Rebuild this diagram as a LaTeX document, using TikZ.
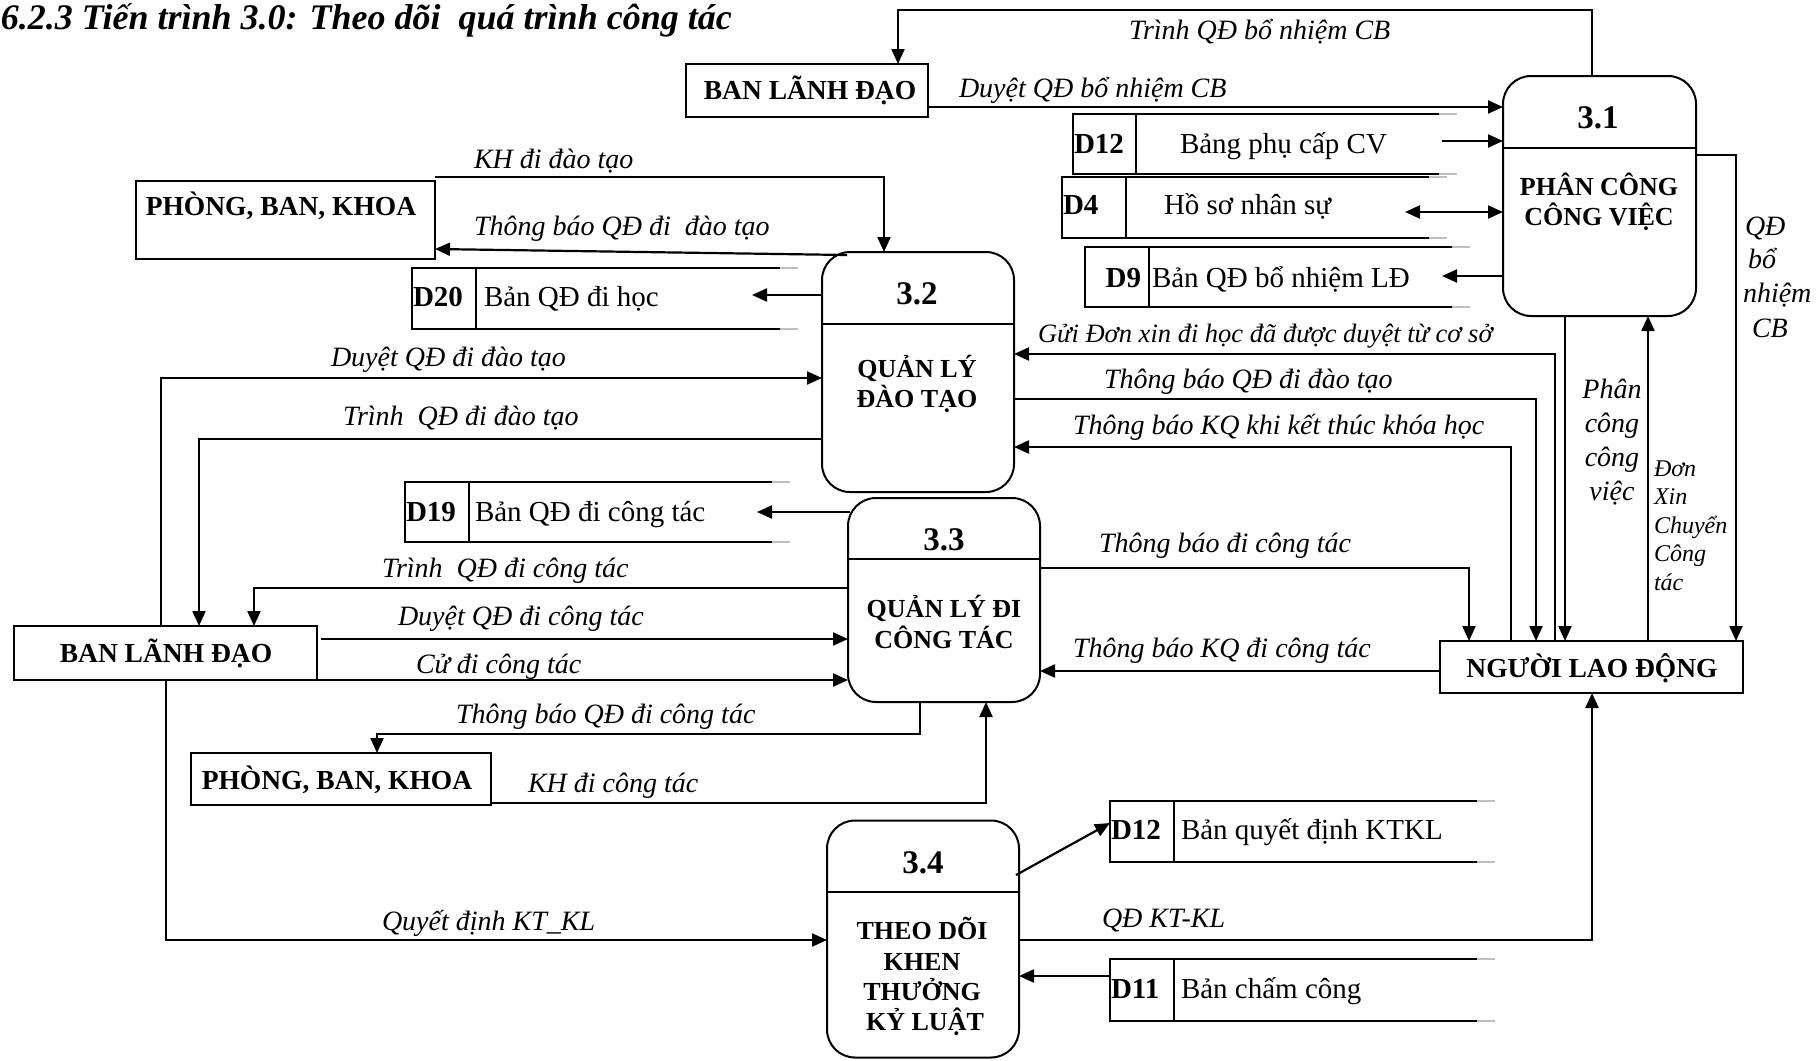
\documentclass[tikz,border=0pt]{standalone}
\usepackage{fontspec}
\setmainfont{Liberation Serif}
\usetikzlibrary{arrows.meta,calc}
\tikzset{
  every node/.style={inner sep=0pt, outer sep=0pt},
  ent/.style={draw, line width=2pt, rectangle},
  proc/.style={draw, line width=2pt, rectangle, rounded corners=28pt},
  sbox/.style={rectangle},
  sline/.style={line width=2pt},
  sfade/.style={line width=1.6pt, black!25},
  arr/.style={line width=2.2pt, -{Triangle[length=15pt,width=13pt]}},
  darr/.style={line width=2.2pt, {Triangle[length=15pt,width=13pt]}-{Triangle[length=15pt,width=13pt]}},
  lbl/.style={font=\fontsize{28}{33}\selectfont\itshape, anchor=base west},
  lblc/.style={font=\fontsize{28}{33}\selectfont\itshape, anchor=base},
  lbls/.style={font=\fontsize{24}{28}\selectfont\itshape, anchor=base west},
  enttxt/.style={font=\fontsize{27.5}{33}\selectfont\bfseries, anchor=base},
  pnum/.style={font=\fontsize{33}{40}\selectfont\bfseries, anchor=base},
  ptxt/.style={font=\fontsize{26}{30}\selectfont\bfseries, anchor=base},
  sid/.style={font=\fontsize{29}{34}\selectfont\bfseries, anchor=base west},
  stxt/.style={font=\fontsize{29}{34}\selectfont, anchor=base west},
  ttl/.style={font=\fontsize{36}{44}\selectfont\bfseries\itshape, anchor=base west}
}
\begin{document}
\begin{tikzpicture}[x=1pt,y=-1pt]
\useasboundingbox (0,0) rectangle (1819,1060);

% title
\node[ttl] (title) at (1,29) {6.2.3 Tiến trình 3.0: Theo dõi\ \ quá trình công tác};

% external entities
\node[ent, minimum width=242pt, minimum height=53pt] (blA) at (807,90.5) {};
\node[enttxt] (blAt) at (810,99) {BAN LÃNH ĐẠO};
\node[ent, minimum width=299pt, minimum height=78pt] (pbkA) at (285.5,220) {};
\node[enttxt] (pbkAt) at (281,215) {PHÒNG, BAN, KHOA};
\node[ent, minimum width=303pt, minimum height=54pt] (blB) at (165.5,653) {};
\node[enttxt] (blBt) at (166,662) {BAN LÃNH ĐẠO};
\node[ent, minimum width=300pt, minimum height=52pt] (pbkB) at (341,779) {};
\node[enttxt] (pbkBt) at (337,789) {PHÒNG, BAN, KHOA};
\node[ent, minimum width=303pt, minimum height=52pt] (nld) at (1591.5,667) {};
\node[enttxt] (nldt) at (1592,677) {NGƯỜI LAO ĐỘNG};

% processes
\node[proc, minimum width=193pt, minimum height=240pt] (p1) at (1599.5,196) {};
\draw[line width=2pt] (p1.west |- 0,148) -- (p1.east |- 0,148);
\node[pnum] (p1n) at (1598,128) {3.1};
\node[ptxt] (p1a) at (1599,195) {PHÂN CÔNG};
\node[ptxt] (p1b) at (1599,225) {CÔNG VIỆC};

\node[proc, minimum width=192pt, minimum height=240pt] (p2) at (918,372) {};
\draw[line width=2pt] (p2.west |- 0,324) -- (p2.east |- 0,324);
\node[pnum] (p2n) at (917,304) {3.2};
\node[ptxt] (p2a) at (917,377) {QUẢN LÝ};
\node[ptxt] (p2b) at (917,407) {ĐÀO TẠO};

\node[proc, minimum width=192pt, minimum height=204pt] (p3) at (944,600) {};
\draw[line width=2pt] (p3.west |- 0,559) -- (p3.east |- 0,559);
\node[pnum] (p3n) at (944,550) {3.3};
\node[ptxt] (p3a) at (944,617) {QUẢN LÝ ĐI};
\node[ptxt] (p3b) at (944,648) {CÔNG TÁC};

\node[proc, minimum width=192pt, minimum height=237pt] (p4) at (923,939) {};
\draw[line width=2pt] (p4.west |- 0,892) -- (p4.east |- 0,892);
\node[pnum] (p4n) at (923,873) {3.4};
\node[ptxt] (p4a) at (922,939) {THEO DÕI};
\node[ptxt] (p4b) at (922,970) {KHEN};
\node[ptxt] (p4c) at (922,1000) {THƯỞNG};
\node[ptxt] (p4d) at (925,1030) {KỶ LUẬT};

% data stores
\node[sbox, minimum width=366pt, minimum height=60pt] (d12a) at (1256,144) {};
\draw[sline] (d12a.north east) -- (d12a.north west) -- (d12a.south west) -- (d12a.south east) (1136,0 |- d12a.north) -- (1136,0 |- d12a.south);
\draw[sfade] (d12a.north east) -- ++(18,0) (d12a.south east) -- ++(18,0);
\node[sid] (d12at) at (1074,153) {D12};
\node[stxt] (d12ad) at (1180,153) {Bảng phụ cấp CV};

\node[sbox, minimum width=367pt, minimum height=61pt] (d4) at (1245.5,207.5) {};
\draw[sline] (d4.north east) -- (d4.north west) -- (d4.south west) -- (d4.south east) (1126,0 |- d4.north) -- (1126,0 |- d4.south);
\draw[sfade] (d4.north east) -- ++(18,0) (d4.south east) -- ++(18,0);
\node[sid] (d4t) at (1063,214) {D4};
\node[stxt] (d4d) at (1164,214) {Hồ sơ nhân sự};

\node[sbox, minimum width=367pt, minimum height=60pt] (d9) at (1268.5,277) {};
\draw[sline] (d9.north east) -- (d9.north west) -- (d9.south west) -- (d9.south east) (1149,0 |- d9.north) -- (1149,0 |- d9.south);
\draw[sfade] (d9.north east) -- ++(18,0) (d9.south east) -- ++(18,0);
\node[sid, anchor=base east] (d9t) at (1141,287) {D9};
\node[stxt] (d9d) at (1152,287) {Bản QĐ bổ nhiệm LĐ};

\node[sbox, minimum width=368pt, minimum height=61pt] (d20) at (596,298.5) {};
\draw[sline] (d20.north east) -- (d20.north west) -- (d20.south west) -- (d20.south east) (476,0 |- d20.north) -- (476,0 |- d20.south);
\draw[sfade] (d20.north east) -- ++(18,0) (d20.south east) -- ++(18,0);
\node[sid] (d20t) at (413,306) {D20};
\node[stxt] (d20d) at (484,306) {Bản QĐ đi học};

\node[sbox, minimum width=367pt, minimum height=60pt] (d19) at (588.5,512) {};
\draw[sline] (d19.north east) -- (d19.north west) -- (d19.south west) -- (d19.south east) (469,0 |- d19.north) -- (469,0 |- d19.south);
\draw[sfade] (d19.north east) -- ++(18,0) (d19.south east) -- ++(18,0);
\node[sid] (d19t) at (406,521) {D19};
\node[stxt] (d19d) at (475,521) {Bản QĐ đi công tác};

\node[sbox, minimum width=367pt, minimum height=61pt] (d12b) at (1293.5,831.5) {};
\draw[sline] (d12b.north east) -- (d12b.north west) -- (d12b.south west) -- (d12b.south east) (1174,0 |- d12b.north) -- (1174,0 |- d12b.south);
\draw[sfade] (d12b.north east) -- ++(18,0) (d12b.south east) -- ++(18,0);
\node[sid] (d12bt) at (1111,839) {D12};
\node[stxt] (d12bd) at (1181,839) {Bản quyết định KTKL};

\node[sbox, minimum width=367pt, minimum height=62pt] (d11) at (1293.5,990) {};
\draw[sline] (d11.north east) -- (d11.north west) -- (d11.south west) -- (d11.south east) (1174,0 |- d11.north) -- (1174,0 |- d11.south);
\draw[sfade] (d11.north east) -- ++(18,0) (d11.south east) -- ++(18,0);
\node[sid] (d11t) at (1111,998) {D11};
\node[stxt] (d11d) at (1181,998) {Bản chấm công};

% connectors around 3.1
\draw[arr] (1592,0 |- p1.north) -- (1592,10) -- (898,10) -- (898,0 |- blA.north);
\node[lbl] (l1) at (1129,39) {Trình QĐ bổ nhiệm CB};
\draw[arr] (blA.east |- 0,107) -- (p1.west |- 0,107);
\node[lbl] (l2) at (959,97) {Duyệt QĐ bổ nhiệm CB};
\draw[arr] ($(d12a.east |- 0,141)+(3,0)$) -- (p1.west |- 0,141);
\draw[darr] ($(d4.east |- 0,212)+(-24,0)$) -- (p1.west |- 0,212);
\draw[arr] (p1.west |- 0,276) -- ($(d9.east |- 0,276)+(-10,0)$);
\draw[arr] (p1.east |- 0,155) -- (1736,155) -- (1736,0 |- nld.north);
\node[lbl] (q1) at (1745,235) {QĐ};
\node[lbl] (q2) at (1748,268) {bổ};
\node[lbl] (q3) at (1743,302) {nhiệm};
\node[lbl] (q4) at (1752,337) {CB};
\draw[arr] (1565,0 |- p1.south) -- (1565,0 |- nld.north);
\node[lblc] (pc1) at (1612,398) {Phân};
\node[lblc] (pc2) at (1612,432) {công};
\node[lblc] (pc3) at (1612,466) {công};
\node[lblc] (pc4) at (1612,500) {việc};
\draw[arr] (1648,0 |- nld.north) -- (1648,0 |- p1.south);
\node[lbls] (dx1) at (1654,476) {Đơn};
\node[lbls] (dx2) at (1654,504) {Xin};
\node[lbls] (dx3) at (1654,533) {Chuyển};
\node[lbls] (dx4) at (1654,561) {Công};
\node[lbls] (dx5) at (1654,590) {tác};

% connectors around 3.2
\draw[arr] (1555,0 |- nld.north) -- (1555,354) -- (p2.east |- 0,354);
\node[lbl, font=\fontsize{26.5}{30}\selectfont\itshape] (l3) at (1038,342) {Gửi Đơn xin đi học đã được duyệt từ cơ sở};
\draw[arr] (p2.east |- 0,399) -- (1536,399) -- (1536,0 |- nld.north);
\node[lbl] (l4) at (1104,388) {Thông báo QĐ đi đào tạo};
\draw[arr] (1511,0 |- nld.north) -- (1511,447) -- (p2.east |- 0,447);
\node[lbl] (l5) at (1073,434) {Thông báo KQ khi kết thúc khóa học};
\draw[arr] (pbkA.north east |- 0,177) -- (884,177) -- (884,0 |- p2.north);
\node[lbl] (l6) at (474,168) {KH đi đào tạo};
\draw[arr] ($(p2.north west)+(25,3)$) -- (pbkA.east |- 0,249);
\node[lbl] (l7) at (474,235) {Thông báo QĐ đi\ \ đào tạo};
\draw[arr] (p2.west |- 0,295) -- ($(d20.east |- 0,295)+(-28,0)$);
\draw[arr] (161,0 |- blB.north) -- (161,378) -- (p2.west |- 0,378);
\node[lbl] (l8) at (331,366) {Duyệt QĐ đi đào tạo};
\draw[arr] (p2.west |- 0,439) -- (199,439) -- (199,0 |- blB.north);
\node[lbl] (l9) at (343,425) {Trình\ \ QĐ đi đào tạo};

% connectors around 3.3
\draw[arr] ($(p3.west |- 0,512)+(2,0)$) -- ($(d19.east |- 0,512)+(-15,0)$);
\draw[arr] (p3.west |- 0,588) -- (254,588) -- (254,0 |- blB.north);
\node[lbl] (l10) at (382,577) {Trình\ \ QĐ đi công tác};
\draw[arr] ($(blB.east |- 0,639)+(4,0)$) -- (p3.west |- 0,639);
\node[lbl] (l11) at (398,625) {Duyệt QĐ đi công tác};
\draw[arr] (blB.south east) -- (p3.west |- 0,680);
\node[lbl] (l12) at (416,673) {Cử đi công tác};
\draw[arr] (920,0 |- p3.south) -- (920,734) -- (377,734) -- (377,0 |- pbkB.north);
\node[lbl] (l13) at (456,723) {Thông báo QĐ đi công tác};
\draw[arr] (pbkB.east |- 0,803) -- (986,803) -- (986,0 |- p3.south);
\node[lbl] (l14) at (528,792) {KH đi công tác};
\draw[arr] (p3.east |- 0,568) -- (1469,568) -- (1469,0 |- nld.north);
\node[lbl] (l15) at (1099,552) {Thông báo đi công tác};
\draw[arr] (nld.west |- 0,671) -- (p3.east |- 0,671);
\node[lbl] (l16) at (1073,657) {Thông báo KQ đi công tác};

% connectors around 3.4
\draw[arr] (166,0 |- blB.south) -- (166,940) -- (p4.west |- 0,940);
\node[lbl] (l17) at (382,930) {Quyết định KT\_KL};
\draw[arr] (p4.east |- 0,940) -- (1592,940) -- (1592,0 |- nld.south);
\node[lbl] (l18) at (1102,927) {QĐ KT-KL};
\draw[arr] (d11.west |- 0,976) -- (p4.east |- 0,976);
\draw[arr] ($(p4.east |- 0,875)+(-3,0)$) -- (d12b.west |- 0,823);
\end{tikzpicture}
\end{document}
